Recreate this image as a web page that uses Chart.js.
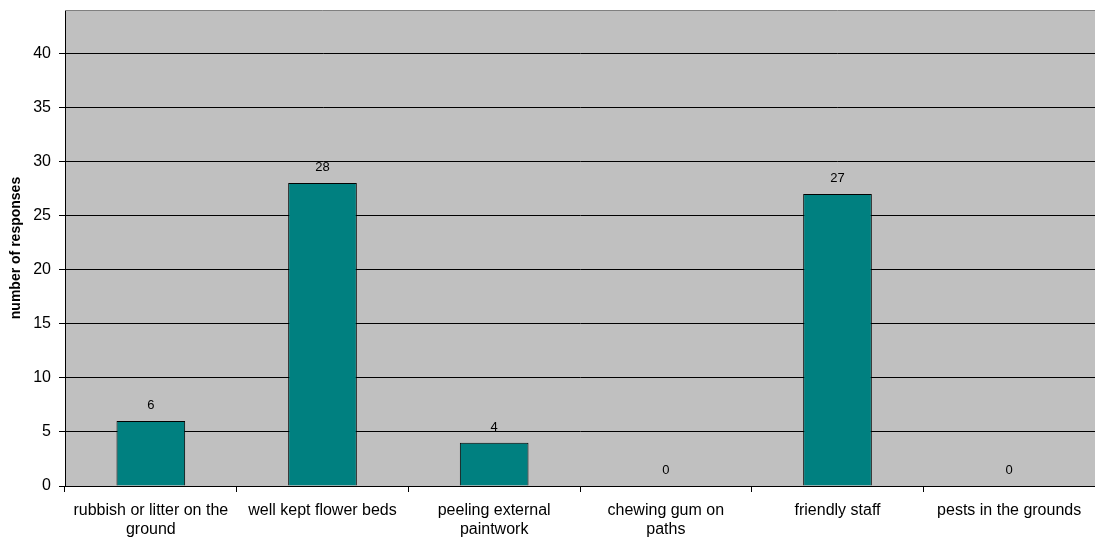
<!DOCTYPE html>
<html>
<head>
<meta charset="utf-8">
<script src="https://cdn.jsdelivr.net/npm/chart.js@4/dist/chart.umd.min.js"></script>
<style>
  html, body { margin: 0; padding: 0; background: #fff; }
  #wrap { width: 1095px; height: 541px; }
</style>
</head>
<body>
<div id="wrap"><canvas id="chartRespuestas" width="1095" height="541"></canvas></div>
<script>
const categorias = [
  ["rubbish or litter on the", "ground"],
  "well kept flower beds",
  ["peeling external", "paintwork"],
  ["chewing gum on", "paths"],
  "friendly staff",
  "pests in the grounds"
];
const respuestas = [6, 28, 4, 0, 27, 0];
const ejeY = { min: 0, max: 44, paso: 5, titulo: "number of responses" };

const FUENTE = "'Liberation Sans', Arial, sans-serif";

// fondo gris del area de trazado + borde superior
const fondoPlot = {
  id: "fondoPlot",
  beforeDraw(chart) {
    const { ctx, chartArea: a } = chart;
    ctx.save();
    ctx.fillStyle = "#c0c0c0";
    ctx.fillRect(a.left, a.top, a.right - a.left, a.bottom - a.top);
    ctx.restore();
  },
  afterDraw(chart) {
    const { ctx, chartArea: a } = chart;
    ctx.save();
    ctx.strokeStyle = "#808080";
    ctx.lineWidth = 1;
    ctx.beginPath();
    ctx.moveTo(a.left, Math.round(a.top) + 0.5);
    ctx.lineTo(a.right, Math.round(a.top) + 0.5);
    ctx.stroke();
    ctx.restore();
  }
};

// etiquetas de valor encima de cada barra
const etiquetasValor = {
  id: "etiquetasValor",
  afterDatasetsDraw(chart) {
    const { ctx } = chart;
    const meta = chart.getDatasetMeta(0);
    ctx.save();
    ctx.font = "13px " + FUENTE;
    ctx.fillStyle = "#000";
    ctx.textAlign = "center";
    ctx.textBaseline = "bottom";
    meta.data.forEach((bar, i) => {
      ctx.fillText(String(respuestas[i]), bar.x, bar.y - 9);
    });
    ctx.restore();
  }
};

new Chart(document.getElementById("chartRespuestas"), {
  type: "bar",
  data: {
    labels: categorias,
    datasets: [{
      data: respuestas,
      backgroundColor: "#008080",
      borderColor: "#000",
      borderWidth: 1,
      borderSkipped: "bottom",
      categoryPercentage: 1,
      barPercentage: 0.4
    }]
  },
  options: {
    responsive: false,
    animation: false,
    layout: { padding: { top: 10, right: 0, left: 0, bottom: 0 } },
    plugins: {
      legend: { display: false },
      tooltip: { enabled: false }
    },
    scales: {
      x: {
        grid: {
          offset: true,
          drawOnChartArea: false,
          drawTicks: true,
          tickLength: 6,
          color: "#000"
        },
        border: { color: "#000" },
        ticks: {
          color: "#000",
          font: { family: FUENTE, size: 16, lineHeight: 1.2 },
          padding: 9,
          maxRotation: 0,
          autoSkip: false
        },
        afterFit(scale) {
          scale.height = 55;
          scale.paddingLeft = 0;
          scale.paddingRight = 0;
        }
      },
      y: {
        min: ejeY.min,
        max: ejeY.max,
        ticks: {
          stepSize: ejeY.paso,
          color: "#000",
          font: { family: FUENTE, size: 16 },
          padding: 8
        },
        afterBuildTicks(scale) {
          scale.ticks = scale.ticks.filter(t => t.value % ejeY.paso === 0);
        },
        grid: { color: "#000", tickLength: 6 },
        border: { color: "#000" },
        title: {
          display: true,
          text: ejeY.titulo,
          color: "#000",
          font: { family: FUENTE, size: 14, weight: "bold" },
          padding: { top: 8, bottom: 0 }
        },
        afterFit(scale) {
          scale.width = 65;
          scale.paddingTop = 0;
          scale.paddingBottom = 0;
        }
      }
    }
  },
  plugins: [fondoPlot, etiquetasValor]
});
</script>
</body>
</html>
